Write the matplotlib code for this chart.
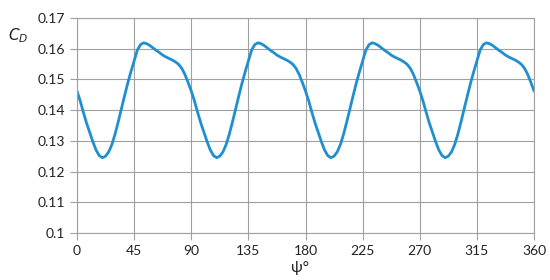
import matplotlib
matplotlib.use("Agg")
import matplotlib.pyplot as plt

# psi in degrees, 2.5 degree steps from 0 to 360
psi = [i * 2.5 for i in range(145)]
cd = [
    # 0 - 87.5
    0.1462, 0.1430, 0.1393, 0.1358, 0.1327, 0.1297, 0.1270, 0.1252, 0.1245,
    0.1250, 0.1264, 0.1288, 0.1322, 0.1362, 0.1405, 0.1447, 0.1488, 0.1525,
    0.1560, 0.1595, 0.1613, 0.1619, 0.1616, 0.1610, 0.1602, 0.1594, 0.1587,
    0.1579, 0.1573, 0.1568, 0.1563, 0.1557, 0.1549, 0.1536, 0.1516, 0.1490,
    # 90 - 177.5
    0.1462, 0.1430, 0.1393, 0.1358, 0.1327, 0.1297, 0.1270, 0.1252, 0.1245,
    0.1250, 0.1264, 0.1288, 0.1322, 0.1362, 0.1405, 0.1447, 0.1488, 0.1525,
    0.1560, 0.1595, 0.1613, 0.1619, 0.1616, 0.1610, 0.1602, 0.1594, 0.1587,
    0.1579, 0.1573, 0.1568, 0.1563, 0.1557, 0.1549, 0.1536, 0.1516, 0.1490,
    # 180 - 267.5
    0.1462, 0.1430, 0.1393, 0.1358, 0.1327, 0.1297, 0.1270, 0.1252, 0.1245,
    0.1250, 0.1264, 0.1288, 0.1322, 0.1362, 0.1405, 0.1447, 0.1488, 0.1525,
    0.1560, 0.1595, 0.1613, 0.1619, 0.1616, 0.1610, 0.1602, 0.1594, 0.1587,
    0.1579, 0.1573, 0.1568, 0.1563, 0.1557, 0.1549, 0.1536, 0.1516, 0.1490,
    # 270 - 357.5
    0.1462, 0.1430, 0.1393, 0.1358, 0.1327, 0.1297, 0.1270, 0.1252, 0.1245,
    0.1250, 0.1264, 0.1288, 0.1322, 0.1362, 0.1405, 0.1447, 0.1488, 0.1525,
    0.1560, 0.1595, 0.1613, 0.1619, 0.1616, 0.1610, 0.1602, 0.1594, 0.1587,
    0.1579, 0.1573, 0.1568, 0.1563, 0.1557, 0.1549, 0.1536, 0.1516, 0.1490,
    # 360
    0.1462,
]
x_ticks = [0, 45, 90, 135, 180, 225, 270, 315, 360]
y_ticks = [0.10, 0.11, 0.12, 0.13, 0.14, 0.15, 0.16, 0.17]
y_labels = ["0.1", "0.11", "0.12", "0.13", "0.14", "0.15", "0.16", "0.17"]

plt.rcParams["font.family"] = ["Lato", "DejaVu Sans"]

fig = plt.figure(figsize=(5.5, 2.8), dpi=100)
ax = fig.add_axes([0.14, 0.168, 0.831, 0.768])

ax.plot(psi, cd, color="#1f8fcf", linewidth=2.0,
        solid_joinstyle="round", solid_capstyle="round")

ax.set_xlim(0, 360)
ax.set_ylim(0.10, 0.17)
ax.set_xticks(x_ticks)
ax.set_yticks(y_ticks)
ax.set_yticklabels(y_labels)
ax.tick_params(labelsize=10, length=5, width=0.8, color="#a0a0a0",
               labelcolor="#222222")
ax.grid(True, color="#a0a0a0", linewidth=0.8)
ax.set_axisbelow(True)
for s in ax.spines.values():
    s.set_color("#a0a0a0")
    s.set_linewidth(0.8)

fig.text(0.015, 0.855, "$C_D$", fontsize=11, color="#222222")
fig.text(0.545, 0.03, "ψ°", fontsize=11, color="#222222", ha="center")

fig.savefig("out.png", dpi=100, facecolor="white")
